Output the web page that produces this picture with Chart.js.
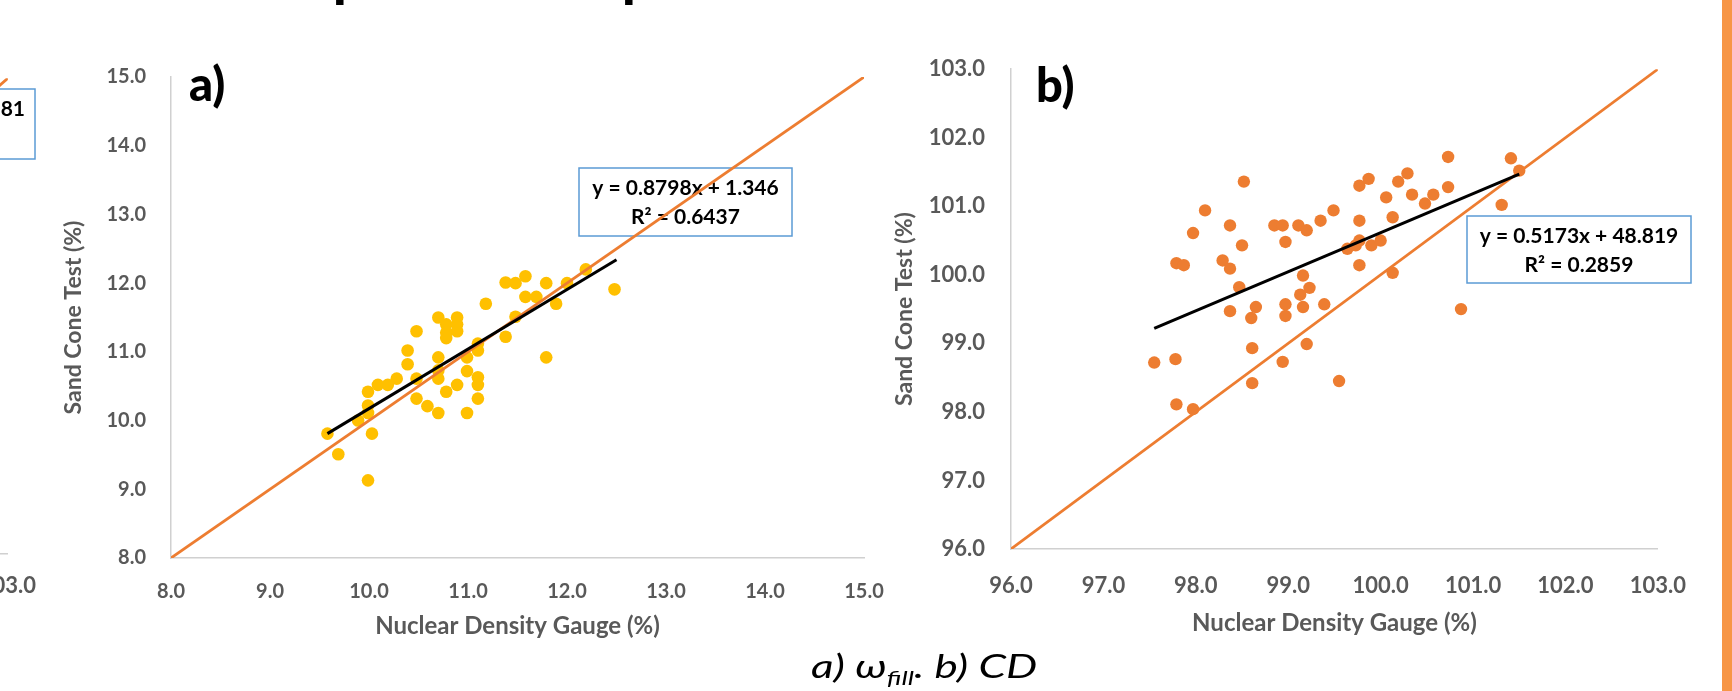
<!DOCTYPE html>
<html lang="en">
<head>
<meta charset="utf-8">
<title>Nuclear Density Gauge vs Sand Cone Test</title>
<script src="https://cdn.jsdelivr.net/npm/chart.js@4.4.1/dist/chart.umd.min.js"></script>
<style>
  html, body { margin: 0; padding: 0; background: #fff; }
  body { width: 1732px; height: 691px; position: relative; overflow: hidden; font-family: Lato, sans-serif; }
  canvas { position: absolute; }
  .trozo { position: absolute; font: 900 54px Lato, sans-serif; line-height: 1; color: #000; }
  .franja { position: absolute; left: 1722px; top: 0; width: 10px; height: 691px; background: #F79646; }
  .pie { position: absolute; left: 811px; top: 650px; font: italic 400 32px Lato, sans-serif; line-height: 1; color: #000;
         white-space: nowrap; transform: scaleX(1.38); transform-origin: 0 0; }
  .pie sub { font-size: 20px; vertical-align: -7px; }
</style>
</head>
<body>
<!-- restos del título de la diapositiva, cortado arriba -->
<div class="trozo" style="left:333px; top:-51px;">p</div>
<div class="trozo" style="left:622px; top:-51px;">p</div>

<canvas id="graficoIzq" width="700" height="620" style="left:-645px; top:40px;"></canvas>
<canvas id="graficoA" width="870" height="620" style="left:40px; top:40px;"></canvas>
<canvas id="graficoB" width="830" height="630" style="left:880px; top:30px;"></canvas>

<div class="pie">a) ω<sub>fill</sub>. b) CD</div>
<div class="franja"></div>

<script>
// a) ω_fill : densímetro nuclear vs cono de arena (%)
const ndgA = [9.58, 9.69, 9.99, 10.03, 9.89, 9.99, 9.99, 9.99, 10.09, 10.19, 10.28, 10.39, 10.39,
  10.48, 10.48, 10.48, 10.59, 10.70, 10.70, 10.70, 10.70, 10.70, 10.78, 10.78, 10.78, 10.78,
  10.89, 10.89, 10.89, 10.89, 10.99, 10.99, 10.99, 11.10, 11.10, 11.10, 11.10, 11.10, 11.18,
  11.38, 11.38, 11.48, 11.48, 11.58, 11.58, 11.69, 11.79, 11.79, 11.89, 12.00, 12.19, 12.48];
const sctA = [9.81, 9.51, 9.13, 9.81, 10.00, 10.11, 10.22, 10.42, 10.52, 10.52, 10.61, 10.82, 11.02,
  11.30, 10.61, 10.32, 10.21, 10.11, 10.61, 10.73, 10.92, 11.50, 11.40, 11.28, 11.20, 10.42,
  11.50, 11.40, 11.30, 10.52, 10.92, 10.72, 10.11, 11.12, 11.02, 10.63, 10.52, 10.32, 11.70,
  12.01, 11.22, 12.00, 11.51, 12.10, 11.80, 11.80, 12.00, 10.92, 11.70, 12.00, 12.20, 11.91];
const tendA_x = [9.58, 12.5];
const tendA_y = [9.81, 12.34];
const ticksA = [8, 9, 10, 11, 12, 13, 14, 15];
const ecuacionA = ['y = 0.8798x + 1.346', 'R² = 0.6437'];

// b) CD
const ndgB = [97.55, 97.78, 97.79, 97.97, 97.79, 97.87, 97.97, 98.10, 98.29, 98.37, 98.37, 98.37,
  98.47, 98.50, 98.52, 98.60, 98.65, 98.61, 98.61, 98.85, 98.94, 98.97, 98.97, 98.97, 98.94,
  99.11, 99.20, 99.16, 99.23, 99.13, 99.16, 99.20, 99.35, 99.39, 99.49, 99.55, 99.64, 99.73,
  99.77, 99.77, 99.77, 99.87, 99.77, 99.90, 100.00, 100.06, 100.13, 100.13, 100.19, 100.29,
  100.34, 100.48, 100.57, 100.73, 100.73, 100.87, 101.31, 101.41, 101.50];
const sctB = [98.72, 98.77, 98.11, 98.04, 100.17, 100.14, 100.61, 100.94, 100.21, 100.09, 100.72, 99.47,
  99.82, 100.43, 101.36, 99.37, 99.53, 98.93, 98.42, 100.72, 100.72, 100.48, 99.57, 99.40, 98.73,
  100.72, 100.65, 99.99, 99.81, 99.71, 99.53, 98.99, 100.79, 99.57, 100.94, 98.45, 100.38, 100.43,
  100.50, 100.79, 101.30, 101.40, 100.14, 100.43, 100.50, 101.13, 100.84, 100.03, 101.36, 101.48,
  101.17, 101.04, 101.17, 101.28, 101.72, 99.50, 101.02, 101.70, 101.52];
const tendB_x = [97.55, 101.5];
const tendB_y = [99.22, 101.47];
const ticksB = [96, 97, 98, 99, 100, 101, 102, 103];
const ecuacionB = ['y = 0.5173x + 48.819', 'R² = 0.2859'];

// gráfico de la izquierda (solo se ve su borde derecho)
const ticksIzq = [96, 97, 98, 99, 100, 101, 102, 103];
const ecuacionIzq = ['81'];

const GRIS = '#595959';
Chart.defaults.font.family = 'Lato, sans-serif';

// cajas de ecuación y rótulos a) b)
const rotulos = {
  id: 'rotulos',
  beforeDatasetsDraw(chart, args, o) {
    if (!o.caja) return;
    const ctx = chart.ctx, c = o.caja;
    ctx.save();
    ctx.fillStyle = '#fff';
    ctx.fillRect(c.x, c.y, c.w, c.h);
    ctx.strokeStyle = '#5B9BD5';
    ctx.lineWidth = 1.5;
    ctx.strokeRect(c.x, c.y, c.w, c.h);
    ctx.fillStyle = '#000';
    ctx.font = 'bold 21px Lato, sans-serif';
    ctx.textBaseline = 'middle';
    ctx.textAlign = c.align || 'center';
    const tx = c.align === 'right' ? c.x + c.w - 10 : c.x + c.w / 2;
    o.lineas.forEach((l, i) => ctx.fillText(l, tx, c.y + 20 + i * 29));
    ctx.restore();
  },
  afterDraw(chart, args, o) {
    if (!o.panel) return;
    const ctx = chart.ctx;
    ctx.save();
    ctx.fillStyle = '#000';
    ctx.font = '900 47px Lato, sans-serif';
    ctx.textBaseline = 'alphabetic';
    ctx.fillText(o.panel, o.px, o.py);
    ctx.restore();
  }
};

function ejes(min, max, ticks, cfg) {
  const base = {
    type: 'linear', min: min, max: max,
    grid: { display: false, drawTicks: false },
    border: { display: true, color: '#D0D0D0', width: 1.5 },
    afterBuildTicks: s => { s.ticks = ticks.map(v => ({ value: v })); },
  };
  const fuente = { size: cfg.tamTicks, weight: 'bold' };
  return {
    x: Object.assign({}, base, {
      ticks: { color: GRIS, font: fuente, padding: cfg.padX, maxRotation: 0, callback: v => v.toFixed(1) },
      title: { display: cfg.titulos, text: 'Nuclear Density Gauge (%)', color: GRIS, font: { size: 24, weight: 'bold' }, padding: { top: 0, bottom: cfg.tituloX } },
      afterFit: s => { s.height = cfg.altoX; }
    }),
    y: Object.assign({}, base, {
      ticks: { color: GRIS, font: fuente, padding: cfg.padY, callback: v => v.toFixed(1) },
      title: { display: cfg.titulos, text: 'Sand Cone Test (%)', color: GRIS, font: { size: 23, weight: 'bold' }, padding: { top: cfg.tituloY, bottom: 0 } },
      afterFit: s => { s.width = cfg.anchoY; }
    })
  };
}

function serie(xs, ys) {
  return xs.map((x, i) => ({ x: x, y: ys[i] }));
}

function crear(id, conjuntos, cfg, extra) {
  return new Chart(document.getElementById(id), {
    type: 'scatter',
    data: { datasets: conjuntos },
    options: {
      responsive: false,
      animation: false,
      devicePixelRatio: 1,
      layout: { padding: cfg.relleno },
      scales: ejes(cfg.min, cfg.max, cfg.ticks, cfg),
      plugins: { legend: { display: false }, tooltip: { enabled: false }, rotulos: extra }
    },
    plugins: [rotulos]
  });
}

function lineaIgualdad(min, max) {
  return { data: [{ x: min, y: min }, { x: max, y: max }], showLine: true, borderColor: '#ED7D31', borderWidth: 2.75, pointRadius: 0, order: 2 };
}
function lineaTendencia(xs, ys) {
  return { data: serie(xs, ys), showLine: true, borderColor: '#000', borderWidth: 3, pointRadius: 0, order: 1 };
}

// a)  canvas en (40,40)
crear('graficoA', [
  { data: serie(ndgA, sctA), backgroundColor: '#FFC000', borderWidth: 0, pointRadius: 6.3, order: 3 },
  lineaIgualdad(8, 15),
  lineaTendencia(tendA_x, tendA_y)
], {
  min: 8, max: 15, ticks: ticksA, titulos: true, tamTicks: 20,
  relleno: { top: 24, right: 46, left: 0, bottom: 0 },
  anchoY: 131, altoX: 102, padX: 22, padY: 25, tituloX: 19, tituloY: 20
}, {
  panel: 'a)', px: 149, py: 61,
  caja: { x: 539, y: 128, w: 213, h: 68 },
  lineas: ecuacionA
});

// b)  canvas en (880,30)
crear('graficoB', [
  { data: serie(ndgB, sctB), backgroundColor: '#ED7D31', borderWidth: 0, pointRadius: 6.2, order: 3 },
  lineaIgualdad(96, 103),
  lineaTendencia(tendB_x, tendB_y)
], {
  min: 96, max: 103, ticks: ticksB, titulos: true, tamTicks: 22,
  relleno: { top: 34, right: 41, left: 0, bottom: 0 },
  anchoY: 131, altoX: 111, padX: 24, padY: 26, tituloX: 22, tituloY: 11
}, {
  panel: 'b)', px: 156, py: 72,
  caja: { x: 587, y: 186, w: 224, h: 67 },
  lineas: ecuacionB
});

// gráfico cortado a la izquierda, canvas en (-645,40)
crear('graficoIzq', [
  lineaIgualdad(96, 103)
], {
  min: 96, max: 103, ticks: ticksIzq, titulos: false, tamTicks: 22,
  relleno: { top: 34.5, right: 40, left: 0, bottom: 0 },
  anchoY: 108, altoX: 106, padX: 19, padY: 25, tituloX: 0, tituloY: 0
}, {
  caja: { x: 440, y: 49, w: 240, h: 70, align: 'right' },
  lineas: ecuacionIzq
});
</script>
</body>
</html>
